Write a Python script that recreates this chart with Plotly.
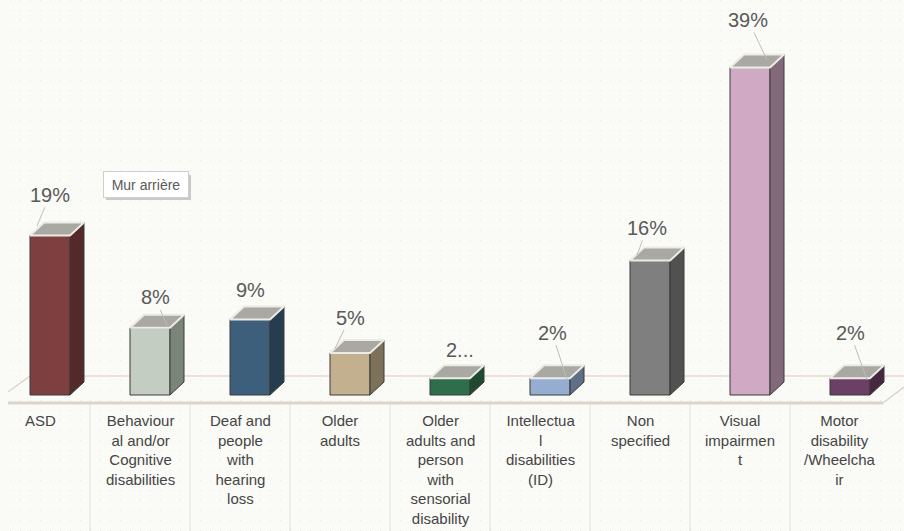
import plotly.graph_objects as go

# ---- data -------------------------------------------------------------
categories = [
    "ASD",
    "Behavioural and/or Cognitive disabilities",
    "Deaf and people with hearing loss",
    "Older adults",
    "Older adults and person with sensorial disability",
    "Intellectual disabilities (ID)",
    "Non specified",
    "Visual impairment",
    "Motor disability /Wheelchair",
]
tick_labels = [
    "ASD",
    "Behaviour<br>al and/or<br>Cognitive<br>disabilities",
    "Deaf and<br>people<br>with<br>hearing<br>loss",
    "Older<br>adults",
    "Older<br>adults and<br>person<br>with<br>sensorial<br>disability",
    "Intellectua<br>l<br>disabilities<br>(ID)",
    "Non<br>specified",
    "Visual<br>impairmen<br>t",
    "Motor<br>disability<br>/Wheelcha<br>ir",
]
values = [19, 8, 9, 5, 2, 2, 16, 39, 2]
value_labels = ["19%", "8%", "9%", "5%", "2...", "2%", "16%", "39%", "2%"]

front_colors = ["#7e3f40", "#c4cdc2", "#3d5f7b", "#c3b08f", "#2f6e4b",
                "#95add0", "#7f7f7f", "#d0a9c5", "#6b3f66"]
side_colors = ["#53292a", "#7b8479", "#263d50", "#7e7159", "#1d4a30",
               "#5f6f87", "#515151", "#836a7b", "#452840"]

# ---- geometry of the pseudo-3D view ------------------------------------
W, H = 904, 531
PX_PER_X = 100.0           # pixels per category step
PX_PER_Y = 8.4             # pixels per percentage point
X0_PX, BASE_PX = 40, 395   # pixel position of category 0 / value 0
X_RANGE = [(0 - X0_PX) / PX_PER_X, (W - X0_PX) / PX_PER_X]
Y_RANGE = [(BASE_PX - H) / PX_PER_Y, BASE_PX / PX_PER_Y]


def px_x(p):
    return (p - X0_PX) / PX_PER_X


def px_y(p):
    return (BASE_PX - p) / PX_PER_Y


BAR_SHIFT = 0.10           # bars sit slightly right of the band centre
BAR_W = 0.40
DX = 14 / PX_PER_X         # depth offset (right)
DY = 13 / PX_PER_Y         # depth offset (up)

BG = "#fafaf6"
FONT = "Liberation Sans, Arial"
fig = go.Figure()

# floor outline (kept beneath the columns)
floor_col = "#dbd3cc"
floor_lines = [
    (8, 392, 30, 376, 1.5, floor_col),
    (30, 376, W, 376, 1.5, "#e3d8d1"),
    (8, 403, 883, 403, 3, floor_col),
    (883, 403, W, 387, 1.5, floor_col),
]
for xa, ya, xb, yb, w, c in floor_lines:
    fig.add_shape(type="line", xref="x", yref="y", layer="below",
                  x0=px_x(xa), y0=px_y(ya), x1=px_x(xb), y1=px_y(yb),
                  line=dict(color=c, width=w))

# category separators below the floor
for i in range(len(categories) - 1):
    fig.add_shape(type="line", xref="x", yref="y", layer="below",
                  x0=i + 0.5, x1=i + 0.5, y0=px_y(404), y1=Y_RANGE[0],
                  line=dict(color="#e6e0da", width=1))

# front faces
fig.add_trace(go.Bar(
    x=[i + BAR_SHIFT for i in range(len(values))], y=values, width=BAR_W,
    marker=dict(color=front_colors, line=dict(color="#3a3a3a", width=1)),
    hoverinfo="skip", showlegend=False))

# side and top faces of each column
for i, v in enumerate(values):
    x0 = i + BAR_SHIFT - BAR_W / 2
    x1 = i + BAR_SHIFT + BAR_W / 2
    fig.add_trace(go.Scatter(
        x=[x1, x1 + DX, x1 + DX, x1, x1],
        y=[0, DY, v + DY, v, 0],
        mode="lines", fill="toself", fillcolor=side_colors[i],
        line=dict(color="#3a3a3a", width=1),
        hoverinfo="skip", showlegend=False))
    fig.add_trace(go.Scatter(
        x=[x0, x1, x1 + DX, x0 + DX, x0],
        y=[v, v, v + DY, v + DY, v],
        mode="lines", fill="toself", fillcolor="#a9a8a3",
        line=dict(color="#ecebe5", width=2),
        hoverinfo="skip", showlegend=False))

# value labels with leader lines: (anchor shift x, y) and (text offset x, y) in px
label_pos = [
    (-20, 3, 13, -31, True),
    (10, -4, -12, -28, True),
    (0, 0, -7, -23, False),
    (-22, -2, 15, -31, True),
    (0, 0, 3, -22, False),
    (10, -8, -15, -47, True),
    (-20, -1, 10, -27, True),
    (10, 1, -19, -40, True),
    (10, -8, -17, -47, True),
]
for i, v in enumerate(values):
    sx, sy, ax, ay, leader = label_pos[i]
    xc = i + BAR_SHIFT + DX / 2
    yc = v + DY / 2
    fig.add_annotation(
        x=xc, y=yc, xshift=sx, yshift=sy, text=value_labels[i],
        showarrow=True, ax=ax, ay=ay, arrowhead=0, arrowwidth=1,
        arrowcolor="#bdbdbd" if leader else "rgba(0,0,0,0)",
        standoff=0, startstandoff=0,
        font=dict(family=FONT, size=20, color="#595959"))

# category labels
for i, t in enumerate(tick_labels):
    fig.add_annotation(
        x=i, y=px_y(410), text=t, showarrow=False, yanchor="top",
        xanchor="center", align="center",
        font=dict(family=FONT, size=15, color="#454545"))

# "Mur arrière" tooltip with a soft drop shadow
fig.add_shape(type="rect", xref="x", yref="y", layer="above",
              x0=px_x(106), x1=px_x(191), y0=px_y(175), y1=px_y(200),
              fillcolor="rgba(110,110,110,0.35)", line=dict(width=0))
fig.add_annotation(
    x=px_x(145.5), y=px_y(184.5), text="Mur arrière", showarrow=False,
    width=78, height=19,
    font=dict(family=FONT, size=14, color="#5a5a5a"),
    bgcolor="#ffffff", bordercolor="#cfcfcf", borderwidth=1, borderpad=3)

fig.update_layout(
    width=W, height=H, margin=dict(l=0, r=0, t=0, b=0),
    paper_bgcolor=BG, plot_bgcolor=BG, showlegend=False,
    xaxis=dict(range=X_RANGE, showticklabels=False, zeroline=False,
               showgrid=True, dtick=0.1, tick0=0.0,
               gridcolor="#e7e5dd", gridwidth=1, griddash="1px,9px",
               fixedrange=True),
    yaxis=dict(range=Y_RANGE, showticklabels=False, zeroline=False,
               showgrid=False, fixedrange=True),
)

fig.write_html("out.html")
